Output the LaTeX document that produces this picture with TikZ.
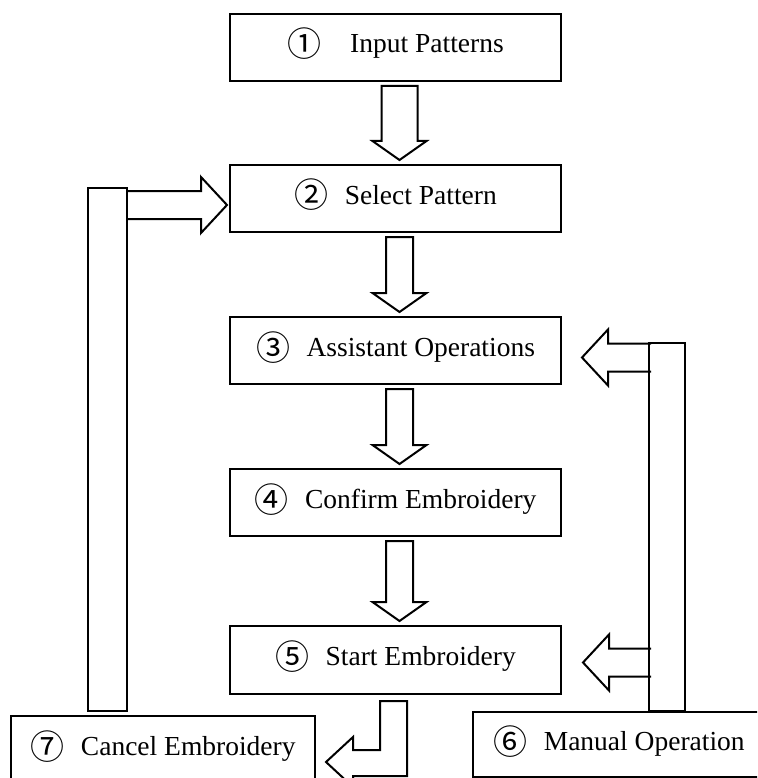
\documentclass[tikz,border=0pt]{standalone}
\usepackage{fontspec}
\setmainfont{Liberation Serif}
\newfontfamily\cjk{Noto Sans CJK SC}
\usetikzlibrary{positioning, calc}

\newcommand{\circnum}[1]{\raisebox{-4pt}{\cjk\fontsize{34}{34}\selectfont #1}\hspace{0.6em}}
% hollow block arrow straight down from box #2 to box #3
\newcommand{\downblk}[3][13.5]{%
  \draw[blk] ($(#2.south)+(4-#1,4)$) -- ($(#2.south)+(4+#1,4)$)
    -- ($(#3.north)+(4+#1,-23)$) -- ($(#3.north)+(31,-23)$)
    -- ($(#3.north)+(4,-4)$) -- ($(#3.north)+(-23,-23)$)
    -- ($(#3.north)+(4-#1,-23)$) -- cycle;}
% hollow block arrow sideways, tip at #1, direction #2, shaft length #3
\newcommand{\sideblk}[3]{%
  \draw[blk, shift={#1}, xscale=#2] (-#3,-14) -- (-26,-14) -- (-26,-28)
    -- (0,0) -- (-26,28) -- (-26,14) -- (-#3,14);}

\begin{document}
\begin{tikzpicture}[
  x=1pt, y=-1pt,
  box/.style={draw, line width=2pt, minimum width=331pt,
              minimum height=67pt, inner sep=0pt, text height=20pt,
              text depth=9pt, font=\fontsize{27.5}{32}\selectfont},
  blk/.style={draw, line width=2pt, line join=miter}
]
  \path[use as bounding box] (0,0) rectangle (757,778);
  \clip (0,0) rectangle (757,778);

  \node[box] (inp) at (395.5,47.5)
    {\circnum{①}\hspace{0.45em}Input Patterns\hspace{10pt}};
  \node[box, below=82pt of inp] (sel) {\circnum{②}Select Pattern\hspace{10pt}};
  \node[box, below=83pt of sel] (asst)
    {\circnum{③}Assistant Operations\hspace{16pt}};
  \node[box, below=83pt of asst] (conf) {\circnum{④}Confirm Embroidery};
  \node[box, below=88pt of conf, minimum height=68pt] (start)
    {\circnum{⑤}Start Embroidery};
  \node[box, minimum width=304pt] (cancel) at (163,749.5)
    {\circnum{⑦}Cancel Embroidery};
  \node[box, minimum width=292pt, minimum height=65pt] (manual) at (619,744.5)
    {\circnum{⑥}Manual Operation};

  \downblk[18]{inp}{sel}
  \downblk{sel}{asst}
  \downblk{asst}{conf}
  \downblk{conf}{start}

  % return bar to select pattern
  \draw[blk] ($(cancel.north west)+(78,-4)$) rectangle ($(sel.north west)+(-102,24)$);
  \sideblk{($(sel.west)+(-2,6.5)$)}{1}{100}

  % manual bar to assistant operations and start
  \draw[blk] ($(manual.north west)+(177,0)$) rectangle ($(asst.east)+(123,-7.5)$);
  \sideblk{($(asst.east)+(20,7)$)}{-1}{69}
  \sideblk{($(start.east)+(21,2.5)$)}{-1}{68}

  % bent arrow start -> cancel
  \draw[blk, shift={(start.south)}] (-15.5,6) -- (11.5,6) -- (11.5,81)
    -- (-42.5,81) -- (-42.5,92) -- (-69.5,67) -- (-42.5,42) -- (-42.5,55)
    -- (-15.5,55) -- cycle;
\end{tikzpicture}
\end{document}
